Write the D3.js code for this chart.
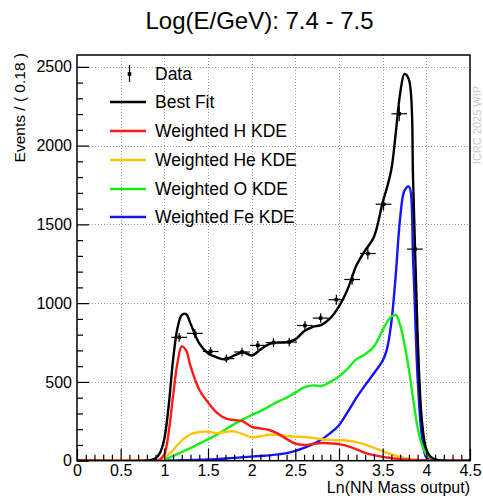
<!DOCTYPE html>
<html><head><meta charset="utf-8">
<script src="https://cdn.jsdelivr.net/npm/d3@7"></script>
<style>
html,body{margin:0;padding:0;background:#fff;}
svg{display:block;font-family:"Liberation Sans",Arial,sans-serif;}
</style></head>
<body><svg id="c" width="483" height="499"></svg>
<script>
// ---- data ----
const title = "Log(E/GeV): 7.4 - 7.5";
const xTitle = "Ln(NN Mass output)";
const yTitle = "Events / ( 0.18 )";
const xTicks = [0,0.5,1,1.5,2,2.5,3,3.5,4,4.5];
const yTicks = [0,500,1000,1500,2000,2500];
const xGrid = [0,0.8,0.85,0.9,0.95,1.0,1.05,1.1,1.15,1.2,1.25,1.3,1.4,1.5,1.6,1.7,1.8,1.9,2.0,2.1,2.2,2.3,2.4,2.5,2.6,2.7,2.8,2.9,3.0,3.1,3.2,3.3,3.4,3.5,3.55,3.6,3.65,3.7,3.75,3.8,3.85,3.9,3.95,4.0,4.05,4.1,4.2,4.5];
const bestFit = [0,0,5,15,50,140,350,640,840,925,930,870,745,682,656,643,668,688,668,705,740,750,752,770,822,850,862,905,980,1090,1240,1335,1420,1640,1735,1850,2080,2330,2455,2420,1750,800,250,70,25,8,0,0];
const hKDE   = [0,0,0,2,8,40,180,410,620,725,700,600,450,370,305,268,258,250,215,205,195,172,138,108,100,106,112,110,105,92,72,50,35,25,20,16,13,10,8,6,5,4,3,2,1,0,0,0];
const heKDE  = [0,0,0,2,6,15,40,68,100,128,150,168,182,184,175,183,186,168,148,155,165,163,157,153,150,145,136,132,130,127,118,102,82,60,50,40,32,25,18,12,7,4,2,1,0,0,0,0];
const oKDE   = [0,0,0,1,3,8,18,30,42,55,68,80,108,135,165,198,232,262,290,315,345,375,400,432,465,478,474,500,535,585,645,675,725,830,880,915,925,860,740,580,390,210,100,40,20,8,0,0];
const feKDE  = [0,0,0,0,0,1,1,2,2,3,3,4,6,8,10,14,18,22,26,30,34,40,48,62,82,105,135,175,225,310,400,480,555,635,710,880,1180,1540,1715,1740,1250,530,150,20,3,0,0,0];
const dataX = [1.17,1.35,1.53,1.71,1.89,2.07,2.25,2.43,2.61,2.79,2.97,3.15,3.33,3.51,3.69,3.87];
const dataY = [783,808,693,648,690,732,750,753,858,905,1022,1150,1315,1628,2202,1343];
const binWidth = 0.18;
const seriesNames = ["Best Fit","Weighted H KDE","Weighted He KDE","Weighted O KDE","Weighted Fe KDE"];
const seriesColors = ["#000000","#ff1a1a","#ffc400","#14f014","#1414ff"];
const seriesValues = [bestFit,hKDE,heKDE,oKDE,feKDE];

// ---- layout ----
const svg = d3.select("#c");
const L=77, R=470, T=55, B=460.7;
const x = d3.scaleLinear().domain([0,4.5]).range([L,R]);
const y = d3.scaleLinear().domain([0,2575]).range([B,T]);

svg.append("defs").append("clipPath").attr("id","clip")
  .append("rect").attr("x",L).attr("y",T).attr("width",R-L).attr("height",B-T);

// grid
const grid = svg.append("g").attr("stroke","#9a9a9a").attr("stroke-width",1).attr("stroke-dasharray","1,2");
xTicks.filter(v=>v>0&&v<4.5).forEach(v=>{
  grid.append("line").attr("x1",Math.round(x(v))+0.5).attr("x2",Math.round(x(v))+0.5).attr("y1",T).attr("y2",B);
});
yTicks.filter(v=>v>0).forEach(v=>{
  grid.append("line").attr("x1",L).attr("x2",R).attr("y1",Math.round(y(v))+0.5).attr("y2",Math.round(y(v))+0.5);
});

// curves
const line = d3.line().x((d,i)=>x(xGrid[i])).y(d=>y(d)).curve(d3.curveCatmullRom.alpha(0.5));
const cg = svg.append("g").attr("clip-path","url(#clip)");
[4,3,2,1,0].forEach(k=>{
  cg.append("path").datum(seriesValues[k]).attr("d",line)
    .attr("fill","none").attr("stroke",seriesColors[k]).attr("stroke-width",2.4).attr("stroke-linejoin","round");
});

// data points
const dg = svg.append("g").attr("stroke","#000").attr("stroke-width",1.2);
dataX.forEach((cx,i)=>{
  const v = dataY[i], e = Math.sqrt(v);
  dg.append("line").attr("x1",x(cx-binWidth/2)).attr("x2",x(cx+binWidth/2)).attr("y1",y(v)).attr("y2",y(v));
  dg.append("line").attr("x1",x(cx)).attr("x2",x(cx)).attr("y1",y(v-e)).attr("y2",y(v+e));
  dg.append("rect").attr("x",x(cx)-1.8).attr("y",y(v)-1.8).attr("width",3.6).attr("height",3.6).attr("fill","#000").attr("stroke","none");
});

// axes
const fontTick = "16px";
const yAx = svg.append("g").attr("transform",`translate(${L},0)`)
  .call(d3.axisLeft(y).tickValues(yTicks).tickSize(-12).tickPadding(5).tickFormat(d3.format("d")));
const yMin = svg.append("g").attr("transform",`translate(${L},0)`)
  .call(d3.axisLeft(y).tickValues(d3.range(0,2575,100).filter(v=>v%500!==0)).tickSize(-6).tickFormat(""));
const xAx = svg.append("g").attr("transform",`translate(0,${B})`)
  .call(d3.axisBottom(x).tickValues(xTicks).tickSize(-12).tickPadding(4).tickFormat(d=>d3.format("~g")(d)));
const xMin = svg.append("g").attr("transform",`translate(0,${B})`)
  .call(d3.axisBottom(x).tickValues(d3.range(0,4.5,0.1).map(v=>+v.toFixed(1)).filter(v=>Math.abs(v*2-Math.round(v*2))>1e-6)).tickSize(-6).tickFormat(""));
[yAx,yMin,xAx,xMin].forEach(g=>{
  g.select(".domain").remove();
  g.selectAll(".tick line").attr("stroke","#000").attr("stroke-width",1.2);
  g.selectAll("text").attr("font-size",fontTick).attr("font-family","Liberation Sans, Arial, sans-serif").attr("fill","#000");
});

// frame
svg.append("rect").attr("x",L).attr("y",T).attr("width",R-L).attr("height",B-T)
  .attr("fill","none").attr("stroke","#000").attr("stroke-width",1.5);

// titles
svg.append("text").attr("x",259.5).attr("y",28.5).attr("text-anchor","middle").attr("font-size","24px").text(title);
svg.append("text").attr("x",R).attr("y",493).attr("text-anchor","end").attr("font-size","16px").text(xTitle);
svg.append("text").attr("transform","translate(25,53) rotate(-90)").attr("text-anchor","end").attr("font-size","15.5px").text(yTitle);

// legend
const lg = svg.append("g");
const rowY = [74,102,131,160,189,217];
lg.append("line").attr("x1",129.5).attr("x2",129.5).attr("y1",rowY[0]-9).attr("y2",rowY[0]+8).attr("stroke","#000").attr("stroke-width",1.2);
lg.append("rect").attr("x",127.7).attr("y",rowY[0]-1.8).attr("width",3.6).attr("height",3.6).attr("fill","#000");
lg.append("text").attr("x",155).attr("y",rowY[0]).attr("dy","0.36em").attr("font-size","17.5px").text("Data");
seriesNames.forEach((n,i)=>{
  const yy = rowY[i+1];
  lg.append("line").attr("x1",110).attr("x2",146).attr("y1",yy).attr("y2",yy).attr("stroke",seriesColors[i]).attr("stroke-width",2.4);
  lg.append("text").attr("x",155).attr("y",yy).attr("dy","0.36em").attr("font-size","17.5px").text(n);
});

// faint side watermark (cut at the window edge)
svg.append("text").attr("transform","translate(481,125) rotate(-90)").attr("text-anchor","middle")
  .attr("font-size","11px").attr("fill","#c8c8c8").text("ICRC 2025 WIP");
</script></body></html>
